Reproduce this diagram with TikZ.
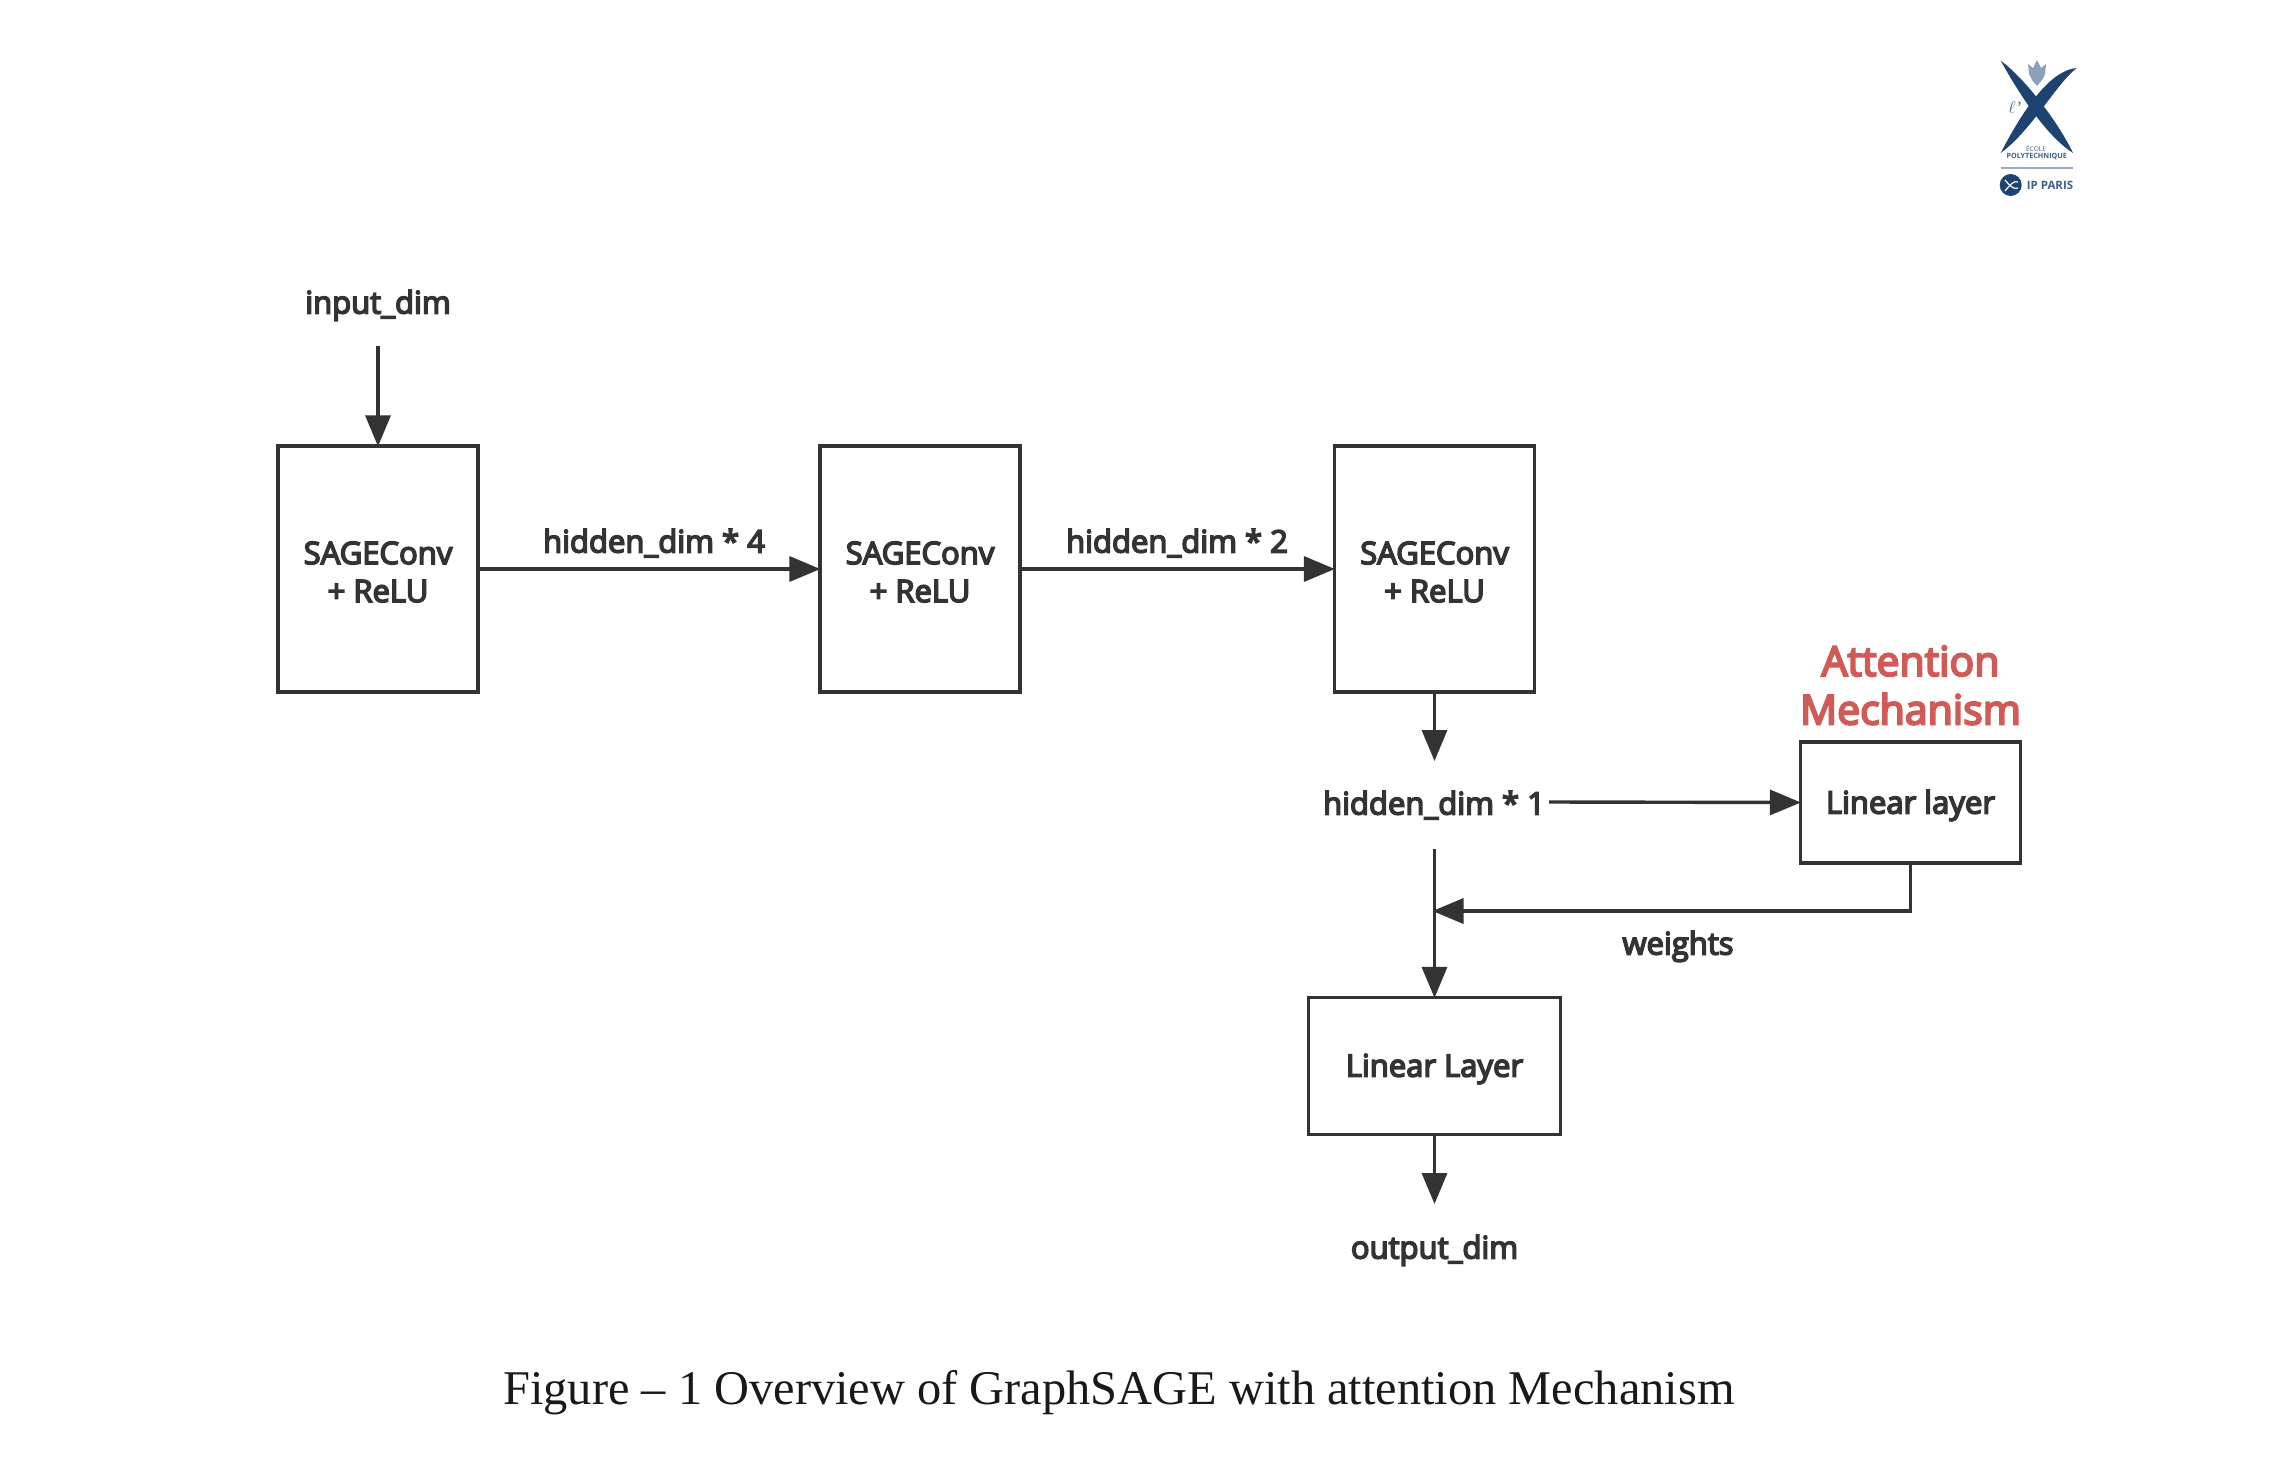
\documentclass[tikz,border=0pt]{standalone}
\usepackage{fontspec}
\setmainfont{Liberation Serif}
\newfontfamily\diagfont[FakeBold=5]{Open Sans}
\newfontfamily\logofont{Open Sans}
\usetikzlibrary{arrows.meta}
\definecolor{ink}{HTML}{333333}
\definecolor{attn}{HTML}{CF5A56}
\definecolor{xblue}{HTML}{1D4470}
\newcommand{\dn}[1]{\raisebox{-3pt}[\height][\depth]{#1}}
\tikzset{
  x=1pt,y=-1pt,
  flow/.style={draw=ink,line width=3.4pt,-{Triangle[length=31pt,width=25pt]},shorten >=-2pt},
  blockbox/.style={draw=ink,line width=3.3pt,fill=white,inner sep=0pt,align=center,font=\diagfont\fontsize{31}{38}\selectfont,text=ink},
  lab/.style={inner sep=0pt,align=center,font=\diagfont\fontsize{31}{38}\selectfont,text=ink,text height=24pt,text depth=7pt},
  redlab/.style={inner sep=0pt,align=center,font=\diagfont\fontsize{41}{48}\selectfont,text=attn},
  logotext/.style={inner sep=0pt,text=xblue!85!white}
}
\begin{document}
\begin{tikzpicture}
\useasboundingbox (0,0) rectangle (2288,1482);
\fill[white] (0,0) rectangle (2288,1482);
% blocks
\node[blockbox,minimum width=200pt,minimum height=246pt] (s1) at (378,569) {\dn{SAGEConv}\\\dn{+ ReLU}};
\node[blockbox,minimum width=200pt,minimum height=246pt] (s2) at (920,569) {\dn{SAGEConv}\\\dn{+ ReLU}};
\node[blockbox,minimum width=200pt,minimum height=246pt] (s3) at (1434.5,569) {\dn{SAGEConv}\\\dn{+ ReLU}};
\node[blockbox,minimum width=220pt,minimum height=121pt] (attlin) at (1910.5,802.5) {\dn{Linear layer}};
\node[blockbox,minimum width=252pt,minimum height=137pt] (outlin) at (1434.5,1066) {\dn{Linear Layer}};
% labels
\node[lab] (indim) at (378,305) {input\_dim};
\node[lab] (h4) at (654,544) {hidden\_dim * 4};
\node[lab] (h2) at (1177,544) {hidden\_dim * 2};
\node[lab] (h1) at (1434,806) {hidden\_dim * 1};
\node[lab] (wts) at (1678,946) {weights};
\node[lab] (outdim) at (1434.5,1250) {output\_dim};
\node[redlab] (attn1) at (1910.5,661) {Attention};
\node[redlab] (attn2) at (1910.5,709) {Mechanism};
\node[inner sep=0pt,font=\fontsize{48.4}{58}\selectfont,text=black!90] (cap) at (1119,1393) {Figure -- 1 Overview of GraphSAGE with attention Mechanism};
% free ends
\coordinate (inend) at (378,346);
\coordinate (h3end) at (1434.5,759);
\coordinate (trunk) at (1434.5,849);
\coordinate (join) at (1434.5,911);
\coordinate (outend) at (1434.5,1202);
\coordinate (h1out) at (1549,802);
% connectors
\draw[flow] (inend) -- (s1.north);
\draw[flow] (s1.east) -- (s2.west);
\draw[flow] (s2.east) -- (s3.west);
\draw[flow] (s3.south) -- (h3end);
\draw[flow] (h1out) -- (attlin.west);
\draw[flow] (trunk) -- (outlin.north);
\draw[flow] (attlin.south) |- (join);
\draw[flow] (outlin.south) -- (outend);
% logo
\fill[xblue] (2000.7,60.7) .. controls (2022,76) and (2056,118) .. (2073,153)
  .. controls (2046,136) and (2018,92) .. (2000.7,60.7) -- cycle;
\fill[xblue] (2076.7,68) .. controls (2052,70) and (2026,104) .. (2000.7,153)
  .. controls (2032,130) and (2056,84) .. (2076.7,68) -- cycle;
\fill[xblue!50!white] (2028,64) -- (2033,68) -- (2037,60) -- (2041,68) -- (2046,64) -- (2045,74) -- (2042,80) -- (2037,86) -- (2032,80) -- (2029,74) -- cycle;
\node[logotext,font=\itshape\fontsize{17}{17}\selectfont] (logol) at (2015,108) {$\ell$'};
\node[logotext,font=\logofont\fontsize{6.6}{7}\selectfont] (logo1) at (2036,148) {ÉCOLE};
\node[logotext,font=\logofont\bfseries\fontsize{7.2}{7}\selectfont] (logo2) at (2036.7,157) {POLYTECHNIQUE};
\draw[xblue!45!white,line width=1.2pt] (2000.7,168) -- (2073,168);
\fill[xblue] (2010.7,185) circle (11);
\draw[white,line width=1.2pt] (2005,180) .. controls (2010,186) and (2014,190) .. (2018,188)
  (2005,191) .. controls (2010,185) and (2014,180) .. (2018,182);
\node[logotext,font=\logofont\bfseries\fontsize{11.5}{12}\selectfont] (logo3) at (2050,185.3) {IP PARIS};
\end{tikzpicture}
\end{document}
